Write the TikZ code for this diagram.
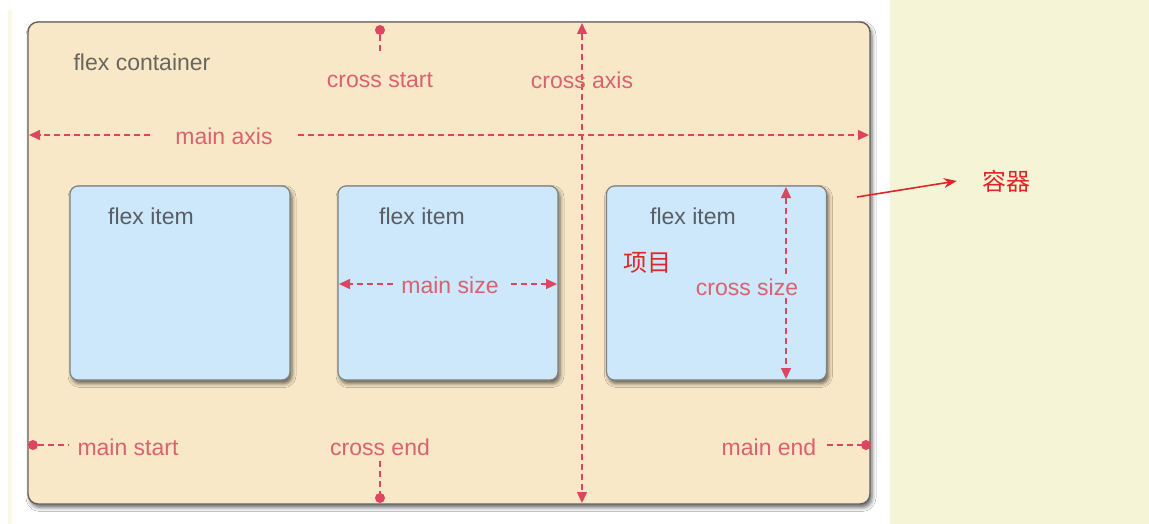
\documentclass[tikz,border=0pt]{standalone}
\usepackage{fontspec}
\setmainfont{Liberation Sans}
\newfontfamily\cjk{Noto Sans CJK SC}
\usetikzlibrary{arrows.meta,shadows.blur}
\definecolor{contfill}{RGB}{249,232,199}
\definecolor{itemfill}{RGB}{205,231,251}
\definecolor{paleyel}{RGB}{246,244,214}
\definecolor{lblcol}{RGB}{218,98,112}
\definecolor{arrcol}{RGB}{221,70,96}
\definecolor{graytxt}{RGB}{105,102,94}
\definecolor{itemtxt}{RGB}{88,94,102}
\definecolor{cnred}{RGB}{224,38,40}
\tikzset{
  txt/.style={font=\fontsize{23}{27}\selectfont, inner sep=0pt},
  lbl/.style={txt, text=lblcol},
  cnlbl/.style={font=\cjk\fontsize{24}{28}\selectfont, text=cnred, inner sep=0pt},
  contbox/.style={draw=black!62, line width=1.4pt, fill=contfill, rounded corners=10pt,
    minimum width=842pt, minimum height=482pt, inner sep=0pt,
    blur shadow={shadow xshift=2pt, shadow yshift=-3.5pt, shadow blur radius=4pt, shadow opacity=60}},
  itembox/.style={draw=black!50, line width=1.2pt, fill=itemfill, rounded corners=8pt,
    minimum width=220pt, minimum height=194pt, inner sep=0pt,
    blur shadow={shadow xshift=2pt, shadow yshift=-3.5pt, shadow blur radius=4pt, shadow opacity=60}},
  dline/.style={draw=arrcol, line width=1.5pt, dash pattern=on 6pt off 4pt},
  tip/.style={-{Triangle[length=11pt,width=10pt]}},
  tips/.style={{Triangle[length=11pt,width=10pt]}-{Triangle[length=11pt,width=10pt]}},
  dotc/.style={circle, fill=arrcol, minimum size=10pt, inner sep=0pt},
}
\begin{document}
\begin{tikzpicture}[x=1pt,y=-1pt]
\useasboundingbox[fill=white] (0,0) rectangle (1149,524);
\fill[paleyel] (890,0) rectangle (1149,524);
\fill[paleyel!60] (8,10) rectangle (12,524);

\node[contbox] (cont) at (449,263) {};
\node[itembox] (i1) at (180,283) {};
\node[itembox] (i2) at (448,283) {};
\node[itembox] (i3) at (716.5,283) {};

\node[txt, text=graytxt] (fc) at (142,62) {flex container};
\node[txt, text=itemtxt] (t1) at (151,216) {flex item};
\node[txt, text=itemtxt] (t2) at (422,216) {flex item};
\node[txt, text=itemtxt] (t3) at (693,216) {flex item};

% cross axis
\coordinate (cat) at (582,23);
\coordinate (cab) at (582,503);
\draw[dline, tips] (cat) -- (cab);
\node[lbl] (ca) at (582,80) {cross axis};

% cross start
\node[dotc] (csd) at (380,30) {};
\node[lbl] (cs) at (380,80) {cross start};
\draw[dline] (csd) -- (380,52);

% main axis
\coordinate (mal) at (29,135);
\coordinate (mar) at (869,135);
\node[lbl] (ma) at (224,136) {main axis};
\draw[dline, tip] ([xshift=-25pt]ma.west |- mal) -- (mal);
\draw[dline, tip] ([xshift=25pt]ma.east |- mar) -- (mar);

% main start
\node[dotc] (msd) at (33,445) {};
\node[lbl] (ms) at (128,447) {main start};
\draw[dline] (msd) -- ([xshift=-9pt]ms.west |- msd);

% cross end
\node[lbl] (ce) at (380,447) {cross end};
\node[dotc] (ced) at (380,498) {};
\draw[dline] ([yshift=-5pt]ce.south) -- (ced);

% main end
\node[lbl] (me) at (769,447) {main end};
\node[dotc] (med) at (866,445) {};
\draw[dline] ([xshift=10pt]me.east |- med) -- (med);

% main size
\coordinate (msl) at (339,284);
\coordinate (msr) at (557,284);
\node[lbl] (msz) at (450,285) {main size};
\draw[dline, tip] ([xshift=-8pt]msz.west |- msl) -- (msl);
\draw[dline, tip] ([xshift=12pt]msz.east |- msr) -- (msr);

% cross size
\coordinate (cst) at (786,187);
\coordinate (csb) at (786,379);
\draw[dline, tips] (cst) -- (csb);
\node[lbl, fill=itemfill, inner ysep=2pt] (csz) at (747,287) {cross size};

% chinese labels
\node[cnlbl] (xm) at (647,263) {项目};
\node[cnlbl] (rq) at (1006,181) {容器};
\coordinate (rs) at (857,197);
\draw[cnred, line width=1.6pt, -{Stealth[length=13pt,width=10pt]}] (rs) -- ([xshift=-25pt]rq.west);
\end{tikzpicture}
\end{document}
